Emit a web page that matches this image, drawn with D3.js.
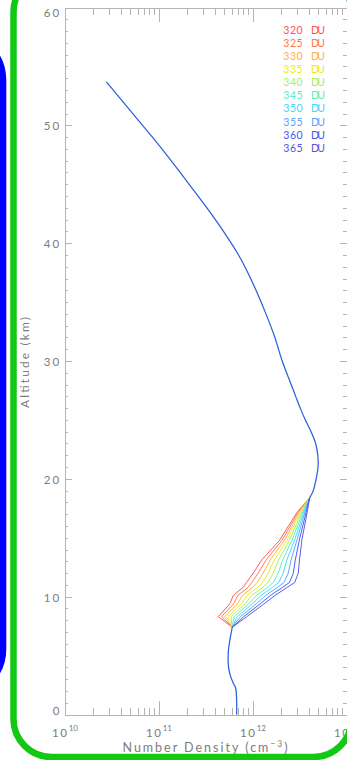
<!DOCTYPE html>
<html>
<head>
<meta charset="utf-8">
<script src="https://cdn.jsdelivr.net/npm/d3@7"></script>
<style>
  html, body { margin: 0; padding: 0; background: #fff; }
  svg { display: block; }
  text { font-family: Lato, "DejaVu Sans", sans-serif; }
</style>
</head>
<body>
<svg id="chart" width="347" height="760"></svg>
<script>
// Total ozone column of each profile (Dobson units) and its colour
const columnsDU = [320, 325, 330, 335, 340, 345, 350, 355, 360, 365];
const seriesColors = ["#ff5252", "#ff7648", "#ffb052", "#ecec12", "#a6ee68", "#56eec0",
                      "#3cd8ff", "#5ca2ff", "#3c5af4", "#5454e2"];

// Lower troposphere, common to every column (altitude km, number density cm^-3)
const lowerAltitude = [0, 1.23, 2.25, 2.6, 3.21, 4.06, 5.23, 6.33, 7.4];
const lowerDensity  = [6.78e11, 6.78e11, 6.62e11, 6.30e11, 5.86e11, 5.55e11, 5.52e11, 5.75e11, 6.09e11];

// Stratosphere above 18.4 km, common to every column
const upperAltitude = [18.4, 19, 20, 21, 22, 23, 24, 25, 26, 27, 28, 30, 32, 34, 36, 38,
                       39.04, 41.02, 43.01, 44.95, 46.75, 48.53, 50.23, 51.93, 53.68];
const upperDensity  = [4.06e12, 4.43e12, 4.76e12, 4.98e12, 4.95e12, 4.70e12, 4.20e12, 3.65e12,
                       3.22e12, 2.88e12, 2.58e12, 2.07e12, 1.73e12, 1.39e12, 1.09e12, 8.30e11,
                       7.05e11, 4.89e11, 3.26e11, 2.14e11, 1.44e11, 9.61e10, 6.40e10, 4.26e10, 2.79e10];

// Tropopause region, where the profiles differ by column
const midAltitude = [8.3, 9.4, 10.1, 10.8, 11.2, 12.0, 13.1, 14.8, 16.5, 17.1];
const du320 = [4.33e11, 5.75e11, 6.24e11, 7.96e11, 8.63e11, 1.02e12, 1.25e12, 1.95e12, 2.64e12, 2.94e12];
const du325 = [4.68e11, 6.31e11, 6.98e11, 8.97e11, 9.84e11, 1.15e12, 1.39e12, 2.07e12, 2.74e12, 3.02e12];
const du330 = [5.05e11, 6.93e11, 7.83e11, 1.01e12, 1.12e12, 1.30e12, 1.54e12, 2.20e12, 2.84e12, 3.11e12];
const du335 = [5.46e11, 7.60e11, 8.77e11, 1.14e12, 1.28e12, 1.47e12, 1.70e12, 2.34e12, 2.94e12, 3.20e12];
const du340 = [5.89e11, 8.34e11, 9.82e11, 1.29e12, 1.46e12, 1.66e12, 1.89e12, 2.48e12, 3.06e12, 3.30e12];
const du345 = [6.37e11, 9.16e11, 1.10e12, 1.46e12, 1.66e12, 1.88e12, 2.09e12, 2.64e12, 3.18e12, 3.39e12];
const du350 = [6.87e11, 1.00e12, 1.23e12, 1.64e12, 1.90e12, 2.12e12, 2.32e12, 2.80e12, 3.30e12, 3.49e12];
const du355 = [7.43e11, 1.10e12, 1.38e12, 1.85e12, 2.16e12, 2.40e12, 2.57e12, 2.97e12, 3.42e12, 3.59e12];
const du360 = [8.04e11, 1.21e12, 1.55e12, 2.09e12, 2.47e12, 2.72e12, 2.85e12, 3.15e12, 3.55e12, 3.70e12];
const du365 = [8.67e11, 1.33e12, 1.73e12, 2.35e12, 2.81e12, 3.07e12, 3.16e12, 3.35e12, 3.68e12, 3.80e12];
const midDensity = [du320, du325, du330, du335, du340, du345, du350, du355, du360, du365];

// Axis ticks
const altMajor = [0, 10, 20, 30, 40, 50, 60];
const altMinor = d3.range(0, 61).filter(v => v % 10 !== 0);
const denMajor = [1e10, 1e11, 1e12, 1e13];
const denMajorExp = ["10", "11", "12", "13"];
const denMinor = [1e10, 1e11, 1e12].flatMap(d => d3.range(2, 10).map(k => k * d));

const svg = d3.select("#chart");
const AXIS = "#b4b4b4", LABEL = "#7c7c7c";

const x = d3.scaleLog().domain([1e10, 1e13]).range([64.5, 346.5]);
const y = d3.scaleLinear().domain([0, 60]).range([714.5, 7.5]);

// ---- axes: ticks point inward on all four sides ----
function styleAxis(g) {
  g.selectAll(".domain").attr("stroke", AXIS);
  g.selectAll(".tick line").attr("stroke", AXIS);
  g.selectAll(".tick text").remove();
  g.attr("shape-rendering", "crispEdges");
}
const [x0, x1] = x.range(), [yb, yt] = y.range();
svg.append("g").attr("transform", `translate(0,${yb})`)
  .call(d3.axisBottom(x).tickValues(denMajor).tickSize(-14).tickSizeOuter(0)).call(styleAxis);
svg.append("g").attr("transform", `translate(0,${yb})`)
  .call(d3.axisBottom(x).tickValues(denMinor).tickSize(-7).tickSizeOuter(0)).call(styleAxis);
svg.append("g").attr("transform", `translate(0,${yt})`)
  .call(d3.axisTop(x).tickValues(denMajor).tickSize(-14).tickSizeOuter(0)).call(styleAxis);
svg.append("g").attr("transform", `translate(0,${yt})`)
  .call(d3.axisTop(x).tickValues(denMinor).tickSize(-7).tickSizeOuter(0)).call(styleAxis);
svg.append("g").attr("transform", `translate(${x0},0)`)
  .call(d3.axisLeft(y).tickValues(altMajor).tickSize(-7).tickSizeOuter(0)).call(styleAxis);
svg.append("g").attr("transform", `translate(${x0},0)`)
  .call(d3.axisLeft(y).tickValues(altMinor).tickSize(-3.5).tickSizeOuter(0)).call(styleAxis);
svg.append("g").attr("transform", `translate(${x1},0)`)
  .call(d3.axisRight(y).tickValues(altMajor).tickSize(-7).tickSizeOuter(0)).call(styleAxis);
svg.append("g").attr("transform", `translate(${x1},0)`)
  .call(d3.axisRight(y).tickValues(altMinor).tickSize(-3.5).tickSizeOuter(0)).call(styleAxis);

// altitude tick labels (end labels kept inside the frame)
svg.append("g").selectAll("text").data(altMajor).join("text")
  .attr("x", 61.5)
  .attr("y", d => Math.min(710.5, Math.max(12.8, y(d) + 0.8)))
  .attr("dy", "0.36em")
  .attr("text-anchor", "end")
  .attr("font-size", 11.5)
  .attr("letter-spacing", 2.2)
  .attr("fill", LABEL)
  .text(d => d);

// density tick labels 10^n
const dl = svg.append("g").selectAll("text").data(denMajor).join("text")
  .attr("x", d => x(d) + 0.5)
  .attr("y", 737)
  .attr("text-anchor", "middle")
  .attr("font-size", 11.5)
  .attr("fill", LABEL);
dl.append("tspan").attr("letter-spacing", 1.6).text("10");
dl.append("tspan").attr("font-size", 8).attr("dy", -6).text((d, i) => denMajorExp[i]);

// axis titles
const xt = svg.append("text")
  .attr("x", 205).attr("y", 752)
  .attr("text-anchor", "middle")
  .attr("font-size", 12.5)
  .attr("fill", LABEL)
  .attr("textLength", 165).attr("lengthAdjust", "spacing");
xt.append("tspan").text("Number Density (cm");
xt.append("tspan").attr("font-size", 8.5).attr("dy", -5.5).text("−3");
xt.append("tspan").attr("dy", 5.5).text(")");

svg.append("text")
  .attr("transform", "translate(29,362.5) rotate(-90)")
  .attr("text-anchor", "middle")
  .attr("font-size", 12)
  .attr("fill", LABEL)
  .attr("textLength", 91).attr("lengthAdjust", "spacing")
  .text("Altitude (km)");

// ---- profiles ----
const line = d3.line().x(d => x(d[1])).y(d => y(d[0]));
const smooth = d3.line().x(d => x(d[1])).y(d => y(d[0])).curve(d3.curveCatmullRom.alpha(0.5));
const lowerEnd = [lowerAltitude[lowerAltitude.length - 1], lowerDensity[lowerDensity.length - 1]];
const upperStart = [upperAltitude[0], upperDensity[0]];

svg.append("g").selectAll("path").data(midDensity).join("path")
  .attr("d", dens => line([lowerEnd, ...midAltitude.map((a, j) => [a, dens[j]]), upperStart]))
  .attr("fill", "none")
  .attr("stroke", (d, i) => seriesColors[i])
  .attr("stroke-width", 0.95)
  .attr("stroke-linejoin", "round");

const PROFILE = "#2c5ede";
svg.append("path")
  .attr("d", smooth(lowerAltitude.map((a, j) => [a, lowerDensity[j]])))
  .attr("fill", "none").attr("stroke", PROFILE).attr("stroke-width", 1.25);
svg.append("path")
  .attr("d", smooth(upperAltitude.map((a, j) => [a, upperDensity[j]])))
  .attr("fill", "none").attr("stroke", PROFILE).attr("stroke-width", 1.25);

// ---- legend ----
const lg = svg.append("g").selectAll("g").data(columnsDU).join("g")
  .attr("transform", (d, i) => `translate(0,${34 + i * 13.08})`)
  .attr("fill", (d, i) => seriesColors[i])
  .attr("font-size", 10.5);
lg.append("text").attr("x", 283.3).attr("textLength", 19.4).attr("lengthAdjust", "spacing").text(d => d);
lg.append("text").attr("x", 311).attr("textLength", 14).attr("lengthAdjust", "spacing").text("DU");

// ---- panel borders ----
svg.append("rect")
  .attr("x", 13.5).attr("y", -26).attr("width", 338).attr("height", 783)
  .attr("rx", 38).attr("ry", 38)
  .attr("fill", "none").attr("stroke", "#12c812").attr("stroke-width", 6.5);
svg.append("rect")
  .attr("x", -200).attr("y", 33.5).attr("width", 202.8).attr("height", 662)
  .attr("rx", 46.5).attr("ry", 46.5)
  .attr("fill", "none").attr("stroke", "#0000ff").attr("stroke-width", 7);
</script>
</body>
</html>
